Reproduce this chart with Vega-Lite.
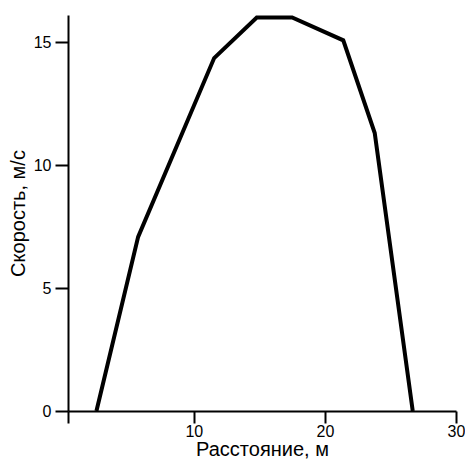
{
  "$schema": "https://vega.github.io/schema/vega-lite/v6.json",
  "autosize": "none",
  "width": 388,
  "height": 396,
  "padding": {"left": 68, "top": 15, "right": 9, "bottom": 49},
  "background": "white",
  "config": {
    "view": {"stroke": null},
    "font": "Liberation Sans",
    "axis": {
      "grid": false,
      "domainColor": "black",
      "domainWidth": 2,
      "tickColor": "black",
      "tickWidth": 2,
      "labelColor": "black",
      "titleColor": "black",
      "labelFont": "Liberation Sans",
      "titleFont": "Liberation Sans",
      "labelFontSize": 16,
      "titleFontSize": 20,
      "titleFontWeight": "normal"
    }
  },
  "data": {
    "values": [
      {"dist": 2.57, "speed": 0},
      {"dist": 5.75, "speed": 7.08},
      {"dist": 11.55, "speed": 14.35},
      {"dist": 14.8, "speed": 16.0},
      {"dist": 17.5, "speed": 16.0},
      {"dist": 21.4, "speed": 15.07},
      {"dist": 23.8, "speed": 11.3},
      {"dist": 26.7, "speed": 0}
    ]
  },
  "mark": {"type": "line", "color": "black", "strokeWidth": 4, "strokeJoin": "miter", "clip": false},
  "encoding": {
    "x": {
      "field": "dist",
      "type": "quantitative",
      "scale": {"domain": [0.4, 30], "nice": false, "zero": false},
      "axis": {
        "title": "Расстояние, м",
        "values": [0.4, 10, 20, 30],
        "labelExpr": "datum.value < 1 ? '' : datum.label",
        "tickSize": 12,
        "labelPadding": 0,
        "titlePadding": 0,
        "labelFlush": false,
        "labelOverlap": false
      }
    },
    "y": {
      "field": "speed",
      "type": "quantitative",
      "scale": {"domain": [0, 16.1], "nice": false},
      "axis": {
        "title": "Скорость, м/с",
        "values": [0, 5, 10, 15],
        "tickSize": 13,
        "labelPadding": 4,
        "titlePadding": 5,
        "labelFlush": false
      }
    }
  }
}
